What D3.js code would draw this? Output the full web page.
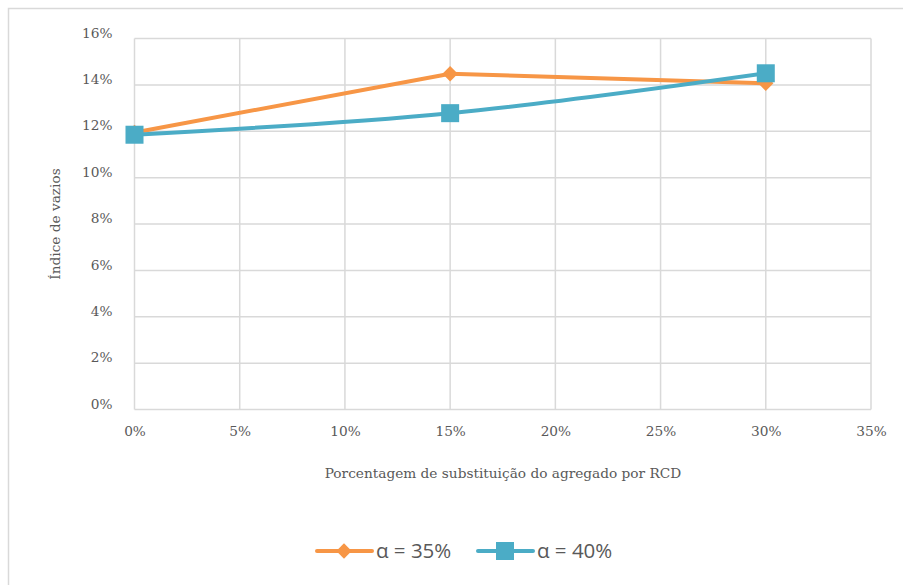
<!DOCTYPE html>
<html>
<head>
<meta charset="utf-8">
<script src="https://cdn.jsdelivr.net/npm/d3@7"></script>
<style>
  body { margin: 0; background: #fff; }
  svg { display: block; }
</style>
</head>
<body>
<div id="container"></div>
<script>
// data
var xValues = [0, 0.15, 0.30],
    alpha35 = [0.1195, 0.1448, 0.1407],
    alpha40 = [0.1185, 0.1278, 0.1450],
    xTicks = [0, 0.05, 0.10, 0.15, 0.20, 0.25, 0.30, 0.35],
    yTicks = [0, 0.02, 0.04, 0.06, 0.08, 0.10, 0.12, 0.14, 0.16],
    seriesNames = ['α = 35%', 'α = 40%'];

var W = 903, H = 585,
    plot = {left: 134.5, right: 871, top: 38.5, bottom: 409.5},
    gridColor = '#d9d9d9',
    textColor = '#595959',
    colors = ['#F79646', '#4BACC6'],
    serif = '"DejaVu Serif", "Liberation Serif", serif',
    sans = '"Open Sans", "Liberation Sans", sans-serif';

var svg = d3.select('#container').append('svg')
    .attr('width', W)
    .attr('height', H);

/* outer chart border (right and bottom fall outside the picture) */
svg.append('rect')
    .attr('x', 8.5).attr('y', 8.5)
    .attr('width', W + 20).attr('height', H + 20)
    .attr('fill', '#fff')
    .attr('stroke', gridColor).attr('stroke-width', 1.5);

var xScale = d3.scaleLinear().domain([0, 0.35]).range([plot.left, plot.right]);
var yScale = d3.scaleLinear().domain([0, 0.16]).range([plot.bottom, plot.top]);

/* gridlines */
var grid = svg.append('g').classed('grid', true);
grid.selectAll('.hgrid').data(yTicks).enter().append('line')
    .classed('hgrid', true)
    .attr('x1', plot.left).attr('x2', plot.right)
    .attr('y1', d => yScale(d)).attr('y2', d => yScale(d))
    .attr('stroke', gridColor).attr('stroke-width', 1.5);
grid.selectAll('.vgrid').data(xTicks).enter().append('line')
    .classed('vgrid', true)
    .attr('x1', d => xScale(d)).attr('x2', d => xScale(d))
    .attr('y1', plot.top).attr('y2', plot.bottom)
    .attr('stroke', gridColor).attr('stroke-width', 1.5);

/* axes (labels only, lines come from the grid) */
var fmt = d3.format('.0%');
var yAxis = d3.axisLeft(yScale).tickValues(yTicks).tickFormat(fmt).tickSize(0).tickPadding(22);
svg.append('g')
    .classed('yaxis', true)
    .attr('transform', `translate(${plot.left}, 0)`)
    .call(yAxis)
    .call(g => g.select('.domain').remove())
    .selectAll('text')
        .attr('font-family', serif).attr('font-size', 13.7).attr('fill', textColor)
        .attr('dy', '-0.1em');

var xAxis = d3.axisBottom(xScale).tickValues(xTicks).tickFormat(fmt).tickSize(0).tickPadding(17);
svg.append('g')
    .classed('xaxis', true)
    .attr('transform', `translate(0, ${plot.bottom})`)
    .call(xAxis)
    .call(g => g.select('.domain').remove())
    .selectAll('text')
        .attr('font-family', serif).attr('font-size', 13.7).attr('fill', textColor);

/* axis titles */
svg.append('text')
    .attr('x', 503).attr('y', 478)
    .attr('text-anchor', 'middle')
    .attr('font-family', serif).attr('font-size', 13.7).attr('fill', textColor)
    .text('Porcentagem de substituição do agregado por RCD');

svg.append('text')
    .attr('transform', 'translate(60, 224) rotate(-90)')
    .attr('text-anchor', 'middle')
    .attr('font-family', serif).attr('font-size', 13.7).attr('fill', textColor)
    .text('Índice de vazios');

/* lines */
var straight = d3.line()
    .x((d, i) => xScale(xValues[i]))
    .y(d => yScale(d));
var smooth = d3.line()
    .x((d, i) => xScale(xValues[i]))
    .y(d => yScale(d))
    .curve(d3.curveCatmullRom.alpha(0.5));

var lineGroup = svg.append('g').classed('lines', true);
lineGroup.append('path')
    .datum(alpha35)
    .attr('d', straight)
    .attr('fill', 'none').attr('stroke', colors[0]).attr('stroke-width', 4)
    .attr('stroke-linejoin', 'round');
lineGroup.append('path')
    .datum(alpha40)
    .attr('d', smooth)
    .attr('fill', 'none').attr('stroke', colors[1]).attr('stroke-width', 4)
    .attr('stroke-linejoin', 'round');

/* markers */
var diamond = d3.symbol().type(d3.symbolDiamond2).size(150);
lineGroup.selectAll('.m35').data(alpha35).enter().append('path')
    .classed('m35', true)
    .attr('d', diamond)
    .attr('transform', (d, i) => `translate(${xScale(xValues[i])}, ${yScale(d)})`)
    .attr('fill', colors[0]);
lineGroup.selectAll('.m40').data(alpha40).enter().append('rect')
    .classed('m40', true)
    .attr('x', (d, i) => xScale(xValues[i]) - 9)
    .attr('y', d => yScale(d) - 9)
    .attr('width', 18).attr('height', 18)
    .attr('fill', colors[1]);

/* legend */
var legend = svg.append('g').classed('legend', true);
var legendItems = [
  {name: seriesNames[0], x: 317, color: colors[0], marker: 'diamond'},
  {name: seriesNames[1], x: 478, color: colors[1], marker: 'square'}
];
legendItems.forEach(function(it) {
  var g = legend.append('g').attr('transform', `translate(${it.x}, 551)`);
  g.append('line').attr('x1', 0).attr('x2', 55).attr('y1', 0).attr('y2', 0)
      .attr('stroke', it.color).attr('stroke-width', 4).attr('stroke-linecap', 'round');
  if (it.marker === 'diamond') {
    g.append('path').attr('d', diamond).attr('transform', 'translate(27, 0)').attr('fill', it.color);
  } else {
    g.append('rect').attr('x', 18).attr('y', -9).attr('width', 18).attr('height', 18).attr('fill', it.color);
  }
  g.append('text').attr('x', 59).attr('y', 0).attr('dy', '0.36em')
      .attr('font-family', sans).attr('font-size', 20.5).attr('fill', textColor)
      .text(it.name);
});
</script>
</body>
</html>
